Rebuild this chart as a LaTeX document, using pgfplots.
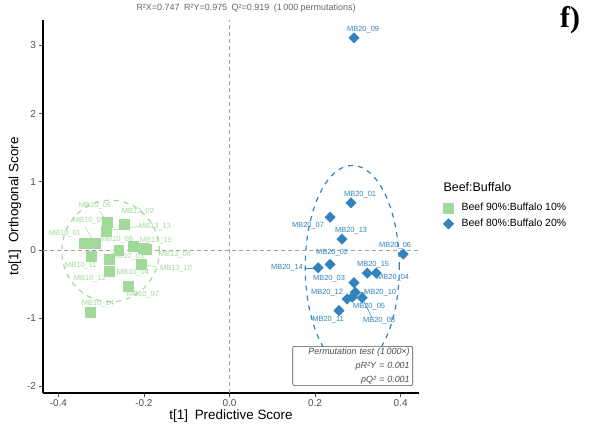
\documentclass[border=0pt]{standalone}
\usepackage{pgfplots}
\pgfplotsset{compat=1.18}
\usepackage{fontspec}
\setmainfont{Liberation Sans}
\newfontfamily\serifbold{Liberation Serif}

\definecolor{grn}{HTML}{A1D99B}
\definecolor{blu}{HTML}{3182BD}
\definecolor{tickgray}{HTML}{4D4D4D}
\definecolor{refgray}{HTML}{A0A0A0}

% OPLS-DA scores, beef 90% : buffalo 10%
\pgfplotstableread{
x y
-0.287 0.41
-0.247 0.38
-0.289 0.28
-0.340 0.10
-0.315 0.10
-0.259 0.00
-0.226 0.06
-0.202 0.03
-0.324 -0.09
-0.282 -0.13
-0.207 -0.21
-0.282 -0.31
-0.237 -0.53
-0.326 -0.91
-0.195 0.01
}\groupA

% OPLS-DA scores, beef 80% : buffalo 20%
\pgfplotstableread{
x y
0.291 3.11
0.284 0.69
0.235 0.48
0.263 0.16
0.406 -0.06
0.235 -0.21
0.207 -0.26
0.322 -0.34
0.343 -0.34
0.291 -0.48
0.294 -0.62
0.275 -0.72
0.287 -0.69
0.310 -0.70
0.256 -0.89
}\groupB

\begin{document}
\begin{tikzpicture}[x=1bp,y=1bp]
\path[use as bounding box] (-43,-34) rectangle (552,393);
\begin{axis}[
  at={(0,0)}, anchor=south west,
  scale only axis, width=376bp, height=373bp,
  xmin=-0.436, xmax=0.443, ymin=-2.097, ymax=3.372,
  clip=false,
  axis x line*=bottom, axis y line*=left,
  axis line style={line width=1.1pt, black, -},
  xtick={-0.4,-0.2,0,0.2,0.4},
  ytick={-2,-1,0,1,2,3},
  tick align=outside,
  major tick length=3.5bp,
  tick style={line width=0.8pt, tickgray},
  /pgf/number format/assume math mode=true,
  xticklabel style={/pgf/number format/.cd, fixed, fixed zerofill, precision=1},
  ticklabel style={font=\fontsize{10}{11}\selectfont, text=tickgray},
  legend style={draw=none, fill=none, at={(1.056,0.52)}, anchor=north west,
    font=\fontsize{10.5}{12}\selectfont, row sep=3bp,
    /tikz/every odd column/.append style={column sep=6bp}},
  legend cell align=left,
]
% zero reference lines
\draw[refgray, line width=0.7pt, dash pattern=on 4bp off 3bp] (axis cs:0,-2.097) -- (axis cs:0,3.372);
\draw[refgray, line width=0.7pt, dash pattern=on 4bp off 3bp] (axis cs:-0.436,0) -- (axis cs:0.443,0);

% 95% confidence ellipses
\draw[grn, line width=1.2pt, dash pattern=on 5bp off 5bp] (axis cs:-0.278,-0.015) ellipse [x radius=0.114, y radius=0.745];
\draw[blu, line width=1.2pt, dash pattern=on 5bp off 5bp] (axis cs:0.287,-0.25) ellipse [x radius=0.11, y radius=1.49];

% label leader lines
\draw[grn, line width=0.5pt] (axis cs:-0.303,0.572) -- (axis cs:-0.287,0.41);
\draw[grn, line width=0.5pt] (axis cs:-0.338,0.34) -- (axis cs:-0.315,0.10);
\draw[grn, line width=0.5pt] (axis cs:-0.206,0.352) -- (axis cs:-0.289,0.28);
\draw[grn, line width=0.5pt] (axis cs:-0.170,-0.249) -- (axis cs:-0.207,-0.21);
\draw[blu, line width=0.5pt] (axis cs:0.1766,-0.264) -- (axis cs:0.207,-0.264);
\draw[blu, line width=0.5pt] (axis cs:0.3193,-0.63) -- (axis cs:0.294,-0.62);
\draw[blu, line width=0.5pt] (axis cs:0.310,-0.70) -- (axis cs:0.333,-0.99);

\addplot[only marks, mark=square*, mark size=5pt, color=grn] table {\groupA};
\addlegendentry{Beef 90\%:Buffalo 10\%}
\addplot[only marks, mark=square*, mark size=3.7pt, mark options={rotate=45}, color=blu] table {\groupB};
\addlegendentry{Beef 80\%:Buffalo 20\%}

% sample labels
\begin{scope}[every node/.style={font=\fontsize{7.5}{8}\selectfont, inner sep=0pt}]
\node[text=grn] at (axis cs:-0.3146,0.645) {MB10\_06};
\node[text=grn] at (axis cs:-0.214,0.557) {MB13\_02};
\node[text=grn] at (axis cs:-0.3287,0.425) {MB10\_05};
\node[text=grn] at (axis cs:-0.1743,0.337) {MB13\_13};
\node[text=grn] at (axis cs:-0.3848,0.235) {MB10\_01};
\node[text=grn] at (axis cs:-0.263,0.147) {MB10\_08};
\node[text=grn] at (axis cs:-0.172,0.132) {MB13\_15};
\node[text=grn] at (axis cs:-0.1275,-0.073) {MB13\_08};
\node[text=grn] at (axis cs:-0.2374,-0.103) {MB10\_03};
\node[text=grn] at (axis cs:-0.3474,-0.235) {MB10\_11};
\node[text=grn] at (axis cs:-0.125,-0.279) {MB13\_10};
\node[text=grn] at (axis cs:-0.2257,-0.337) {MB10\_04};
\node[text=grn] at (axis cs:-0.3263,-0.425) {MB10\_12};
\node[text=grn] at (axis cs:-0.2023,-0.66) {MB10\_07};
\node[text=grn] at (axis cs:-0.3076,-0.792) {MB10\_14};
\node[text=blu] at (axis cs:0.3123,3.226) {MB20\_09};
\node[text=blu] at (axis cs:0.3053,0.806) {MB20\_01};
\node[text=blu] at (axis cs:0.1836,0.352) {MB20\_07};
\node[text=blu] at (axis cs:0.2842,0.279) {MB20\_13};
\node[text=blu] at (axis cs:0.3871,0.059) {MB20\_06};
\node[text=blu] at (axis cs:0.2398,-0.044) {MB20\_02};
\node[text=blu] at (axis cs:0.1345,-0.264) {MB20\_14};
\node[text=blu] at (axis cs:0.3357,-0.22) {MB20\_15};
\node[text=blu] at (axis cs:0.3825,-0.41) {MB20\_04};
\node[text=blu] at (axis cs:0.2327,-0.425) {MB20\_03};
\node[text=blu] at (axis cs:0.228,-0.63) {MB20\_12};
\node[text=blu] at (axis cs:0.352,-0.63) {MB20\_10};
\node[text=blu] at (axis cs:0.3263,-0.836) {MB20\_05};
\node[text=blu] at (axis cs:0.2304,-1.026) {MB20\_11};
\node[text=blu] at (axis cs:0.3497,-1.041) {MB20\_08};
\end{scope}

% permutation test box
\node[draw=tickgray, fill=white, rounded corners=2bp, line width=0.6pt,
  anchor=north east, align=right, text width=114bp, inner xsep=3bp, inner ysep=1.5bp,
  font=\itshape\fontsize{9}{14}\selectfont, text=tickgray]
  at (axis cs:0.429,-1.408) {Permutation test (1\,000×)\\ pR²Y = 0.001\\ pQ² = 0.001};

% titles and axis labels
\node[font=\fontsize{9}{10}\selectfont, text=black!60] at (axis description cs:0.54,1.032)
  {R²X=0.747\enspace R²Y=0.975\enspace Q²=0.919\enspace (1\,000 permutations)};
\node[font=\fontsize{13.5}{15}\selectfont] at (axis description cs:0.5,-0.063) {t[1]\enspace Predictive Score};
\node[font=\fontsize{13.5}{15}\selectfont, rotate=90] at (axis description cs:-0.0745,0.5) {to[1]\enspace Orthogonal Score};
\node[font=\fontsize{12.5}{14}\selectfont, anchor=west] at (axis description cs:1.056,0.552) {Beef:Buffalo};
\end{axis}
\node[font=\serifbold\bfseries\fontsize{30}{30}\selectfont] at (527,373) {f)};
\end{tikzpicture}
\end{document}
